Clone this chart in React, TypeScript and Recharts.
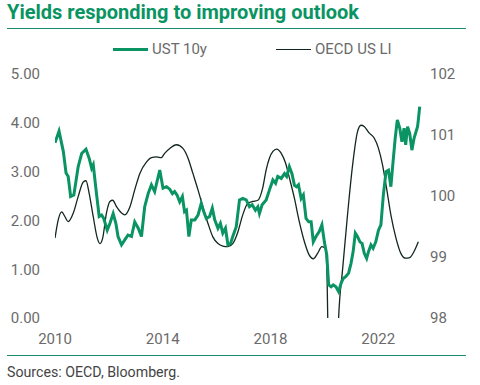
import { LineChart, Line, XAxis, YAxis } from 'recharts'

// decimal years
const ustYears = [
  2010.0, 2010.15, 2010.31, 2010.41, 2010.49, 2010.58, 2010.7, 2010.86, 2010.99, 2011.15,
  2011.27, 2011.36, 2011.42, 2011.54, 2011.64, 2011.73, 2011.81, 2011.94, 2012.04, 2012.16,
  2012.26, 2012.34, 2012.47, 2012.59, 2012.71, 2012.84, 2012.96, 2013.09, 2013.21, 2013.33,
  2013.46, 2013.58, 2013.7, 2013.89, 2014.01, 2014.14, 2014.26, 2014.36, 2014.44, 2014.53,
  2014.63, 2014.73, 2014.81, 2014.88, 2014.97, 2015.06, 2015.19, 2015.31, 2015.43, 2015.52,
  2015.62, 2015.74, 2015.84, 2015.93, 2016.05, 2016.14, 2016.23, 2016.33, 2016.42, 2016.52,
  2016.6, 2016.73, 2016.85, 2016.97, 2017.1, 2017.22, 2017.32, 2017.44, 2017.53, 2017.59,
  2017.69, 2017.84, 2017.96, 2018.09, 2018.19, 2018.27, 2018.4, 2018.52, 2018.6, 2018.7,
  2018.8, 2018.89, 2018.97, 2019.04, 2019.14, 2019.22, 2019.32, 2019.42, 2019.51, 2019.59,
  2019.69, 2019.81, 2019.91, 2020.0, 2020.09, 2020.16, 2020.25, 2020.33, 2020.43, 2020.53,
  2020.62, 2020.7, 2020.8, 2020.9, 2020.99, 2021.07, 2021.15, 2021.23, 2021.32, 2021.4,
  2021.48, 2021.57, 2021.64, 2021.73, 2021.81, 2021.91, 2022.01, 2022.1, 2022.19, 2022.29,
  2022.38, 2022.47, 2022.53, 2022.63, 2022.71, 2022.8, 2022.88, 2022.96, 2023.02, 2023.09,
  2023.17, 2023.25, 2023.33, 2023.46, 2023.49, 2023.54,
]
const ustYield = [
  3.59, 3.83, 3.41, 2.97, 2.9, 2.49, 2.52, 3.1, 3.37, 3.46,
  3.27, 3.07, 3.14, 2.55, 2.08, 2.11, 2.04, 1.8, 1.94, 2.14,
  1.94, 1.67, 1.5, 1.6, 1.7, 1.67, 1.97, 1.84, 1.67, 2.28,
  2.55, 2.73, 2.59, 3.03, 2.66, 2.69, 2.64, 2.55, 2.59, 2.52,
  2.38, 2.49, 2.18, 2.21, 1.67, 2.01, 2.01, 2.11, 2.35, 2.18,
  2.04, 2.08, 2.25, 2.01, 1.84, 1.94, 1.74, 1.84, 1.5, 1.53,
  1.67, 1.87, 2.42, 2.45, 2.42, 2.28, 2.32, 2.21, 2.28, 2.14,
  2.32, 2.42, 2.62, 2.83, 2.76, 2.9, 2.86, 2.96, 2.9, 3.1,
  2.95, 2.72, 2.69, 2.73, 2.45, 2.52, 2.04, 1.97, 1.97, 1.56,
  1.67, 1.77, 1.91, 1.56, 1.29, 0.68, 0.64, 0.68, 0.64, 0.54,
  0.71, 0.81, 0.85, 0.92, 1.12, 1.36, 1.74, 1.67, 1.56, 1.53,
  1.33, 1.22, 1.36, 1.5, 1.43, 1.56, 1.8, 1.91, 2.52, 3.0,
  3.03, 2.69, 3.07, 3.68, 4.06, 3.89, 3.61, 3.89, 3.55, 3.92,
  3.78, 3.44, 3.68, 3.92, 4.06, 4.33,
]

const liYears = [
  2010.0, 2010.12, 2010.25, 2010.37, 2010.49, 2010.68, 2010.86, 2011.05, 2011.15, 2011.27,
  2011.42, 2011.57, 2011.67, 2011.77, 2011.91, 2012.04, 2012.14, 2012.29, 2012.47, 2012.59,
  2012.78, 2012.96, 2013.15, 2013.4, 2013.58, 2013.77, 2013.95, 2014.07, 2014.26, 2014.51,
  2014.75, 2014.94, 2015.12, 2015.31, 2015.49, 2015.68, 2015.86, 2016.05, 2016.23, 2016.42,
  2016.6, 2016.79, 2016.97, 2017.16, 2017.34, 2017.53, 2017.71, 2017.84, 2017.96, 2018.09,
  2018.23, 2018.4, 2018.56, 2018.7, 2018.89, 2019.07, 2019.26, 2019.44, 2019.59, 2019.75,
  2019.91, 2020.04, 2020.1, 2020.16, 2020.28, 2020.4, 2020.52, 2020.68, 2020.86, 2021.05,
  2021.23, 2021.36, 2021.48, 2021.67, 2021.85, 2022.01, 2022.16, 2022.31, 2022.47, 2022.66,
  2022.84, 2023.02, 2023.17, 2023.33, 2023.49,
]
const liIndex = [
  99.31, 99.61, 99.74, 99.66, 99.58, 99.72, 99.99, 100.23, 100.25, 100.04,
  99.66, 99.31, 99.22, 99.31, 99.72, 99.91, 99.93, 99.82, 99.72, 99.69,
  99.82, 100.1, 100.37, 100.56, 100.63, 100.64, 100.63, 100.7, 100.78, 100.84,
  100.78, 100.62, 100.37, 100.1, 99.82, 99.55, 99.33, 99.22, 99.18, 99.17,
  99.22, 99.41, 99.69, 99.88, 99.91, 99.93, 100.13, 100.43, 100.62, 100.73,
  100.77, 100.7, 100.54, 100.3, 99.96, 99.58, 99.25, 99.03, 98.97, 99.06,
  99.17, 99.14, 98.7, 97.0, 93.5, 94.5, 97.9, 98.81, 99.69, 100.51,
  101.05, 101.16, 101.14, 101.03, 100.95, 100.78, 100.51, 100.13, 99.69, 99.31,
  99.06, 98.98, 98.99, 99.09, 99.25,
]

const yearTicks = [2010, 2014, 2018, 2022]
const yieldTicks = [0, 1, 2, 3, 4, 5]
const indexTicks = [98, 99, 100, 101, 102]

const GREEN = '#0a9463'
const DARK = '#12271d'
const FONT = 'Roboto, Arial, sans-serif'

const ustData = ustYears.map((t, i) => ({ t, v: ustYield[i] }))
const liData = liYears.map((t, i) => ({ t, v: liIndex[i] }))

const tickStyle = { fontFamily: FONT, fontSize: 15, fill: '#6b6b6b' }

function LegendItem({ label, width }: { label: string; width: number }) {
  return (
    <div style={{ display: 'flex', alignItems: 'center' }}>
      <div style={{ width: 35, height: 0, borderTop: `${width}px solid ${width > 2 ? GREEN : DARK}`, marginRight: 4 }} />
      <span>{label}</span>
    </div>
  )
}

export default function App() {
  return (
    <div style={{ position: 'absolute', left: 0, top: 0, width: 480, height: 385, background: '#fff', fontFamily: FONT }}>
      <div style={{ position: 'absolute', left: 7, top: 0, fontSize: 20, fontWeight: 700, color: GREEN, whiteSpace: 'nowrap' }}>
        Yields responding to improving outlook
      </div>
      <div style={{ position: 'absolute', left: 7, top: 28, width: 459, height: 0, borderTop: '1.5px solid #168c6c' }} />

      <div style={{ position: 'absolute', left: 113, top: 40, display: 'flex', fontSize: 15, color: '#6b6b6b' }}>
        <div style={{ width: 163 }}><LegendItem label="UST 10y" width={3} /></div>
        <LegendItem label="OECD US LI" width={1.2} />
      </div>

      <div style={{ position: 'absolute', left: 0, top: 0 }}>
        <LineChart width={480} height={385} margin={{ top: 74, right: 0, bottom: 37, left: 0 }}>
          <XAxis
            dataKey="t"
            type="number"
            domain={[2010, 2023.7]}
            ticks={yearTicks}
            allowDataOverflow
            axisLine={false}
            tickLine={false}
            tickSize={0}
            tickMargin={15}
            height={30}
            tick={tickStyle}
          />
          <YAxis
            yAxisId="l"
            orientation="left"
            domain={[0, 5]}
            ticks={yieldTicks}
            tickFormatter={(v: number) => v.toFixed(2)}
            axisLine={false}
            tickLine={false}
            tickSize={0}
            tickMargin={15}
            width={55}
            tick={tickStyle}
          />
          <YAxis
            yAxisId="r"
            orientation="right"
            domain={[98, 102]}
            ticks={indexTicks}
            allowDataOverflow
            axisLine={false}
            tickLine={false}
            tickSize={0}
            tickMargin={6}
            width={56}
            tick={tickStyle}
          />
          <Line
            yAxisId="r"
            data={liData}
            dataKey="v"
            type="monotone"
            stroke={DARK}
            strokeWidth={1.3}
            dot={false}
            isAnimationActive={false}
          />
          <Line
            yAxisId="l"
            data={ustData}
            dataKey="v"
            type="linear"
            stroke={GREEN}
            strokeWidth={3}
            dot={false}
            isAnimationActive={false}
          />
        </LineChart>
      </div>

      <div style={{ position: 'absolute', left: 7, top: 355, width: 459, height: 0, borderTop: '1.5px solid #168c6c' }} />
      <div style={{ position: 'absolute', left: 7, top: 364, fontSize: 14.2, color: '#444' }}>
        Sources: OECD, Bloomberg.
      </div>
    </div>
  )
}
